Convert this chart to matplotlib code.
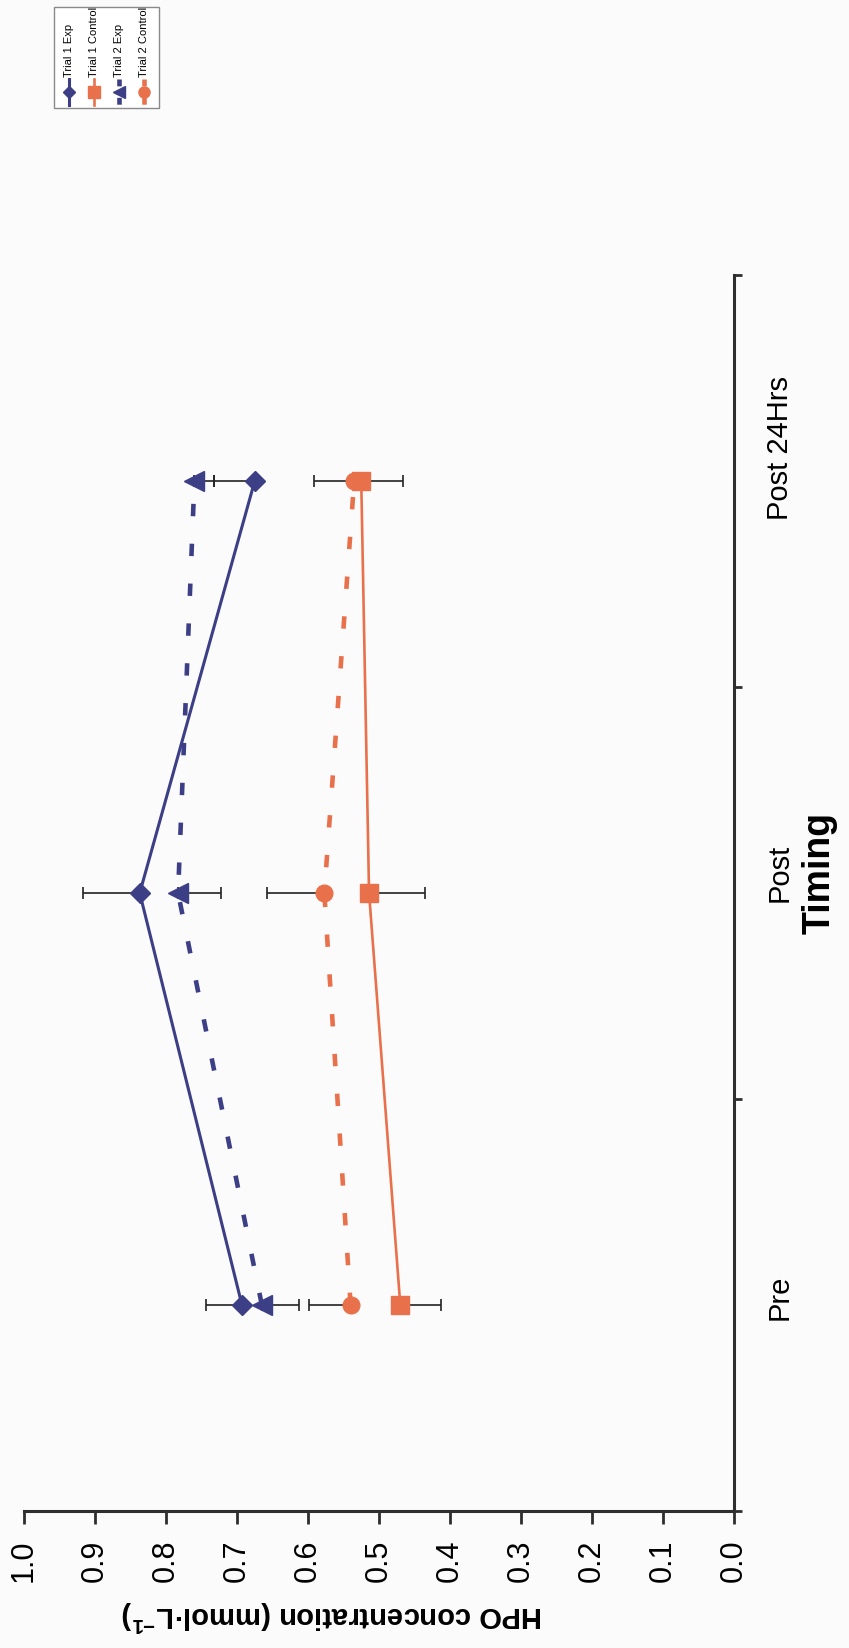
import matplotlib
matplotlib.use("Agg")
import matplotlib.pyplot as plt
from matplotlib.lines import Line2D
from matplotlib.patches import Rectangle
from matplotlib.ticker import FormatStrFormatter

plt.rcParams['font.family'] = ['Liberation Sans', 'DejaVu Sans']
plt.rcParams['mathtext.fontset'] = 'custom'
plt.rcParams['mathtext.rm'] = 'Liberation Sans'
plt.rcParams['mathtext.bf'] = 'Liberation Sans:bold'

# data
timing = ['Pre', 'Post', 'Post 24Hrs']
t1_exp = [0.693, 0.837, 0.675]
t1_exp_err = [0.050, 0.080, 0.058]   # drawn upward only
t1_ctl = [0.470, 0.514, 0.525]
t1_ctl_err = [0.058, 0.079, 0.059]   # drawn downward only
t2_exp = [0.665, 0.783, 0.760]
t2_exp_err = [0.052, 0.060, 0.027]   # downward
t2_ctl = [0.540, 0.577, 0.535]
t2_ctl_err = [0.059, 0.081, 0.057]   # upward
series_names = ['Trial 1 Exp', 'Trial 1 Control', 'Trial 2 Exp', 'Trial 2 Control']

NAVY = '#3c3f86'
ORANGE = '#e8714c'
AXC = '#2e2e2e'
W, H = 849, 1649

fig = plt.figure(figsize=(W / 100, H / 100), dpi=100, facecolor='#fbfbfb')
ax = fig.add_axes([24 / W, 1 - 1512 / H, (734 - 24) / W, (1512 - 276) / H])
ax.set_facecolor('none')

pos = list(range(len(timing)))
zeros = [0] * len(timing)
dash = (0, (2.7, 6.0))

# error bars (one sided), then lines
ekw = dict(fmt='none', ecolor='#222222', elinewidth=1.2, capsize=4, capthick=1.2, zorder=2)
ax.errorbar(t1_exp, pos, xerr=[zeros, t1_exp_err], **ekw)
ax.errorbar(t1_ctl, pos, xerr=[t1_ctl_err, zeros], **ekw)
ax.errorbar(t2_exp, pos, xerr=[t2_exp_err, zeros], **ekw)
ax.errorbar(t2_ctl, pos, xerr=[zeros, t2_ctl_err], **ekw)

ax.plot(t2_ctl, pos, color=ORANGE, lw=3.3, ls=dash, dash_capstyle='butt',
        marker='o', ms=12, mec=ORANGE, zorder=3)
ax.plot(t2_exp, pos, color=NAVY, lw=3.3, ls=dash, dash_capstyle='butt',
        marker='<', ms=14, mec=NAVY, zorder=3)
ax.plot(t1_ctl, pos, color=ORANGE, lw=1.9, marker='s', ms=13, mec=ORANGE, zorder=4)
ax.plot(t1_exp, pos, color=NAVY, lw=2.2, marker='D', ms=10, mec=NAVY, zorder=4)

# value axis runs horizontally, reversed
ax.set_xlim(1.0, 0.0)
ax.set_xticks([i / 10 for i in range(11)])
ax.xaxis.set_major_formatter(FormatStrFormatter('%.1f'))
ax.tick_params(axis='x', direction='out', length=9, width=2, color=AXC,
               pad=11, labelsize=22, labelrotation=90)

# category axis on the right; labels sit a little above their category
label_shift = [0.022, 0.051, 0.082]
ax.set_ylim(-0.5, len(timing) - 0.5)
ax.set_yticks([i - 0.5 for i in range(len(timing) + 1)])
ax.set_yticklabels([])
ax.set_yticks([p + d for p, d in zip(pos, label_shift)], minor=True)
ax.set_yticklabels(timing, minor=True, rotation=90, va='center')
ax.yaxis.set_ticks_position('right')
ax.tick_params(axis='y', which='major', direction='out', length=6, width=2, color=AXC)
ax.tick_params(axis='y', which='minor', length=0, pad=23, labelsize=21)

for s in ['top', 'left']:
    ax.spines[s].set_visible(False)
for s in ['bottom', 'right']:
    ax.spines[s].set_linewidth(2.2)
    ax.spines[s].set_color(AXC)

fig.text(820 / W, 1 - 873 / H, 'Timing', rotation=90, ha='center', va='center',
         fontsize=27, fontweight='bold')
fig.text(332 / W, 1 - 1616 / H, r'HPO concentration (mmol·L$^{\mathbf{-1}}$)', rotation=180,
         ha='center', va='center', fontsize=21, fontweight='bold')

# legend, drawn in pixel coords
lg = fig.add_axes([0, 0, 1, 1], zorder=5)
lg.set_xlim(0, W)
lg.set_ylim(H, 0)
lg.axis('off')
lg.add_patch(Rectangle((54, 8), 105, 101, facecolor='white', edgecolor='#8a8a8a', lw=1))
styles = [
    dict(color=NAVY, lw=2.2, marker='D', ms=6),
    dict(color=ORANGE, lw=1.9, marker='s', ms=8),
    dict(color=NAVY, lw=3.3, ls=(0, (1.5, 2.5)), marker='<', ms=8),
    dict(color=ORANGE, lw=3.3, ls=(0, (1.5, 2.5)), marker='o', ms=8),
]
cols = [69, 94, 119, 144]
for x, name, st in zip(cols, series_names, styles):
    lg.add_line(Line2D([x, x, x], [80, 93, 106], markevery=[1], mec=st['color'], **st))
    lg.text(x, 77, name, rotation=90, ha='center', va='bottom', fontsize=8)

fig.savefig('out.png', dpi=100, facecolor=fig.get_facecolor())
